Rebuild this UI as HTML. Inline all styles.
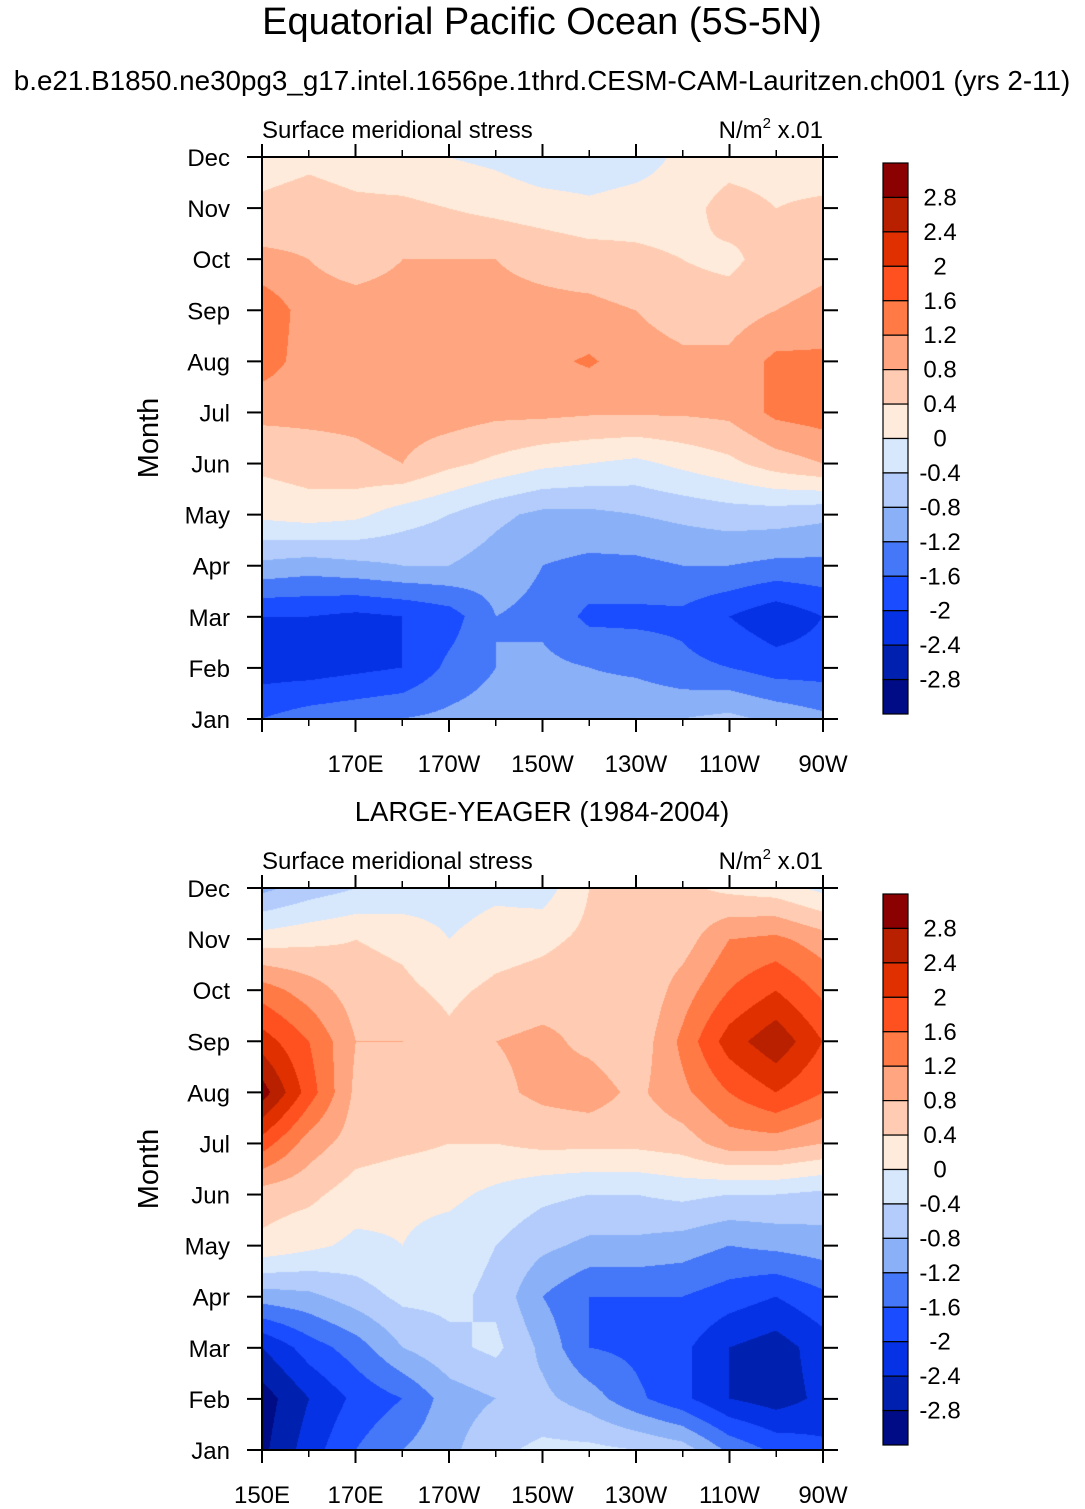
<!DOCTYPE html>
<html><head><meta charset="utf-8">
<style>
body{margin:0;background:#fff;width:1085px;height:1509px;position:relative;overflow:hidden;font-family:"Liberation Sans",sans-serif;}
canvas{position:absolute;}
svg{position:absolute;left:0;top:0;}
</style></head>
<body>
<canvas id="c1" width="561" height="562" style="left:262px;top:157px"></canvas>
<canvas id="c2" width="561" height="562" style="left:262px;top:888px"></canvas>
<svg id="s" width="1085" height="1509"></svg>
<script>
const months=["Jan","Feb","Mar","Apr","May","Jun","Jul","Aug","Sep","Oct","Nov","Dec"];
const lonTicks=["150E","170E","170W","150W","130W","110W","90W"];
const levels=[-2.8,-2.4,-2,-1.6,-1.2,-0.8,-0.4,0,0.4,0.8,1.2,1.6,2,2.4,2.8];
const levelLabels=["-2.8","-2.4","-2","-1.6","-1.2","-0.8","-0.4","0","0.4","0.8","1.2","1.6","2","2.4","2.8"];
const colors=["#000c85","#0021b0","#0632e5","#1a4dff","#4577f9","#8ab0f8","#b3ccfb","#d7e8fd","#ffebdb","#ffccb3","#ffa57f","#ff7a45","#ff5020","#e03000","#b82000","#8b0000"];
// rows Jan..Dec, columns 150E..90W every 10 deg
const modelVals=[
[-1.6,-1.4,-1.3,-1.2,-1.1,-1.0,-1.0,-0.9,-0.8,-0.8,-0.7,-0.9,-1.1],
[-2.2,-2.2,-2.1,-2.0,-1.5,-1.2,-1.1,-1.2,-1.3,-1.5,-1.6,-1.8,-1.8],
[-2.0,-2.0,-2.1,-2.0,-1.8,-1.2,-1.3,-1.7,-1.7,-1.7,-2.0,-2.3,-2.0],
[-0.9,-1.0,-0.9,-0.8,-0.8,-1.0,-1.2,-1.3,-1.3,-1.2,-1.2,-1.3,-1.3],
[0.1,0.2,0.1,-0.2,-0.4,-0.7,-0.9,-0.9,-0.8,-0.7,-0.6,-0.6,-0.7],
[0.5,0.6,0.7,0.8,0.5,0.3,0.1,0.0,-0.1,0.1,0.3,0.6,0.8],
[0.9,0.9,0.9,1.0,1.0,0.9,0.9,0.85,0.85,0.85,0.9,1.3,1.4],
[1.4,1.0,1.0,1.0,1.0,1.0,1.1,1.25,1.0,0.9,0.9,1.3,1.3],
[1.5,1.0,1.0,1.0,1.0,0.9,0.9,0.9,0.8,0.6,0.6,0.8,0.9],
[0.9,0.8,0.6,0.8,0.8,0.8,0.7,0.6,0.5,0.4,0.3,0.6,0.7],
[0.5,0.6,0.5,0.5,0.4,0.3,0.2,0.1,0.2,0.2,0.6,0.4,0.5],
[0.2,0.3,0.2,0.1,0.0,-0.1,-0.3,-0.3,-0.2,0.1,0.2,0.2,0.1]];
const obsVals=[
[-2.9,-2.2,-1.6,-1.2,-0.9,-0.5,-0.3,-0.3,-0.4,-0.6,-1.3,-1.7,-1.9],
[-3.0,-2.4,-1.9,-1.6,-1.0,-0.8,-0.7,-1.0,-1.5,-1.9,-2.4,-2.6,-2.3],
[-2.4,-1.8,-1.4,-0.8,-0.5,-0.3,-0.9,-1.6,-1.7,-1.9,-2.4,-2.6,-2.2],
[-1.0,-0.9,-0.6,-0.3,-0.3,-0.5,-1.2,-1.6,-1.6,-1.6,-1.8,-2.0,-1.7],
[0.3,0.1,-0.1,0.0,-0.2,-0.4,-0.7,-0.9,-0.9,-1.0,-1.2,-1.1,-1.0],
[0.6,0.5,0.2,0.1,0.1,-0.1,-0.3,-0.4,-0.4,-0.3,-0.4,-0.4,-0.5],
[1.8,1.0,0.6,0.5,0.4,0.4,0.5,0.5,0.5,0.6,1.0,1.0,0.8],
[3.0,1.8,0.7,0.6,0.5,0.7,0.9,1.0,0.7,1.1,1.6,2.0,1.6],
[2.2,1.6,0.8,0.8,0.5,0.8,0.9,0.7,0.5,1.3,2.2,2.7,2.0],
[1.4,1.0,0.6,0.5,0.3,0.5,0.6,0.7,0.4,1.0,1.6,2.0,1.5],
[0.2,0.3,0.4,0.3,0.0,0.2,0.3,0.5,0.5,0.6,1.2,1.3,1.0],
[-0.9,-0.6,-0.4,-0.3,-0.2,-0.1,-0.2,0.4,0.5,0.5,0.3,0.2,-0.1]];

function colorFor(v){let i=0;while(i<levels.length&&v>=levels[i])i++;return colors[i];}
function hex(c){return [parseInt(c.slice(1,3),16),parseInt(c.slice(3,5),16),parseInt(c.slice(5,7),16)];}
function fill(id,vals){
  const cv=document.getElementById(id),ctx=cv.getContext('2d'),W=cv.width,H=cv.height;
  const img=ctx.createImageData(W,H),nr=vals.length,nc=vals[0].length;
  for(let py=0;py<H;py++){const fy=(1-py/(H-1))*(nr-1),r0=Math.min(Math.floor(fy),nr-2),ty=fy-r0;
    for(let px=0;px<W;px++){const fx=px/(W-1)*(nc-1),c0=Math.min(Math.floor(fx),nc-2),tx=fx-c0;
      const v=(vals[r0][c0]*(1-tx)+vals[r0][c0+1]*tx)*(1-ty)+(vals[r0+1][c0]*(1-tx)+vals[r0+1][c0+1]*tx)*ty;
      const rgb=hex(colorFor(v)),k=(py*W+px)*4;img.data[k]=rgb[0];img.data[k+1]=rgb[1];img.data[k+2]=rgb[2];img.data[k+3]=255;}}
  ctx.putImageData(img,0,0);
}
fill('c1',modelVals);fill('c2',obsVals);

const s=document.getElementById('s');const NS="http://www.w3.org/2000/svg";
function el(t,a,txt){const e=document.createElementNS(NS,t);for(const k in a)e.setAttribute(k,a[k]);if(txt!==undefined)e.textContent=txt;s.appendChild(e);return e;}
function T(x,y,txt,size,anchor,name){const e=el('text',{x:x,y:y,'font-size':size,'text-anchor':anchor||'middle','font-family':'Liberation Sans, sans-serif',fill:'#000'},txt);return e;}
T(542,34,"Equatorial Pacific Ocean (5S-5N)",38,'middle','main-title');
T(542,90,"b.e21.B1850.ne30pg3_g17.intel.1656pe.1thrd.CESM-CAM-Lauritzen.ch001 (yrs 2-11)",27.8,'middle','model-subtitle');
T(542,821,"LARGE-YEAGER (1984-2004)",27.5,'middle','obs-subtitle');
const X0=262,X1=823;
function xs(deg){return X0+(deg)/120*(X1-X0);}
function panel(top,showFirst,pfx){
  const bot=top+562;const ys=i=>bot-i*(562/11);
  const r=el('rect',{x:X0,y:top,width:X1-X0,height:bot-top,fill:'none',stroke:'#000','stroke-width':2});
  
  months.forEach((m,i)=>{const y=ys(i);
    el('line',{x1:X0-15,y1:y,x2:X0,y2:y,stroke:'#000','stroke-width':2});
    el('line',{x1:X1,y1:y,x2:X1+15,y2:y,stroke:'#000','stroke-width':2});
    T(X0-32,y+9,m,24,'end',pfx+'-month-label');});
  lonTicks.forEach((l,i)=>{const x=xs(i*20);
    el('line',{x1:x,y1:top-13,x2:x,y2:top,stroke:'#000','stroke-width':2});
    el('line',{x1:x,y1:bot,x2:x,y2:bot+13,stroke:'#000','stroke-width':2});
    if(i>0||showFirst)T(x,bot+53,l,24,'middle',pfx+'-lon-label');});
  for(let d=10;d<120;d+=20){const x=xs(d);el('line',{x1:x,y1:top-7,x2:x,y2:top,stroke:'#000','stroke-width':1.5});el('line',{x1:x,y1:bot,x2:x,y2:bot+7,stroke:'#000','stroke-width':1.5});}
  const yl=T(0,0,"Month",29,'middle',pfx+'-y-axis-title');yl.setAttribute('transform',`translate(158,${(top+bot)/2}) rotate(-90)`);
  T(X0,top-19,"Surface meridional stress",24,'start',pfx+'-variable-label');
  const u=T(X1,top-19,"",24,'end',pfx+'-units-label');u.innerHTML='N/m<tspan font-size="15" dy="-10">2</tspan><tspan dy="10"> x.01</tspan>';
  const cb0=top+6,bh=551/16;
  colors.slice().reverse().forEach((c,i)=>{const b=el('rect',{x:883,y:cb0+i*bh,width:25,height:bh,fill:c,stroke:'#000','stroke-width':1.2});
    });
  levelLabels.slice().reverse().forEach((l,i)=>T(940,cb0+(i+1)*bh+8,l,24,'middle',pfx+'-colorbar-label'));
}
panel(157,false,'model');panel(888,true,'obs');
</script>
</body></html>
